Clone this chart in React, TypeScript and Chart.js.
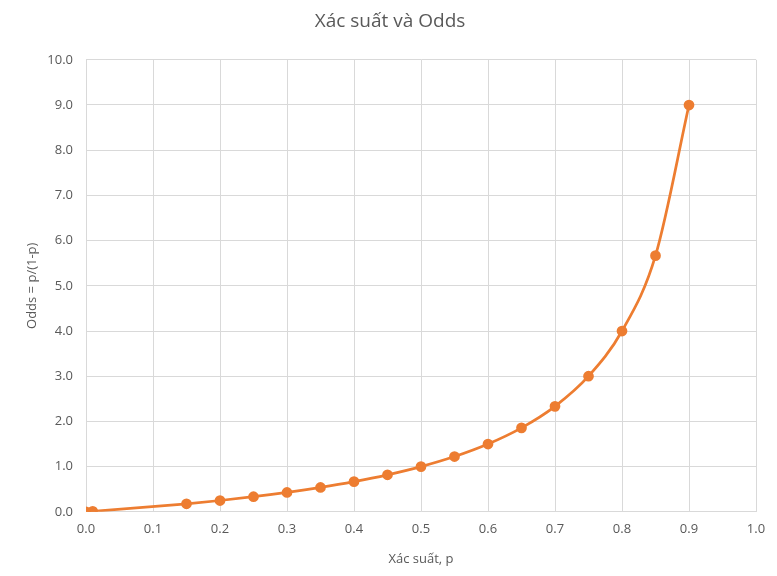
import React, { useEffect, useRef } from "react";
import { Chart, registerables } from "chart.js";

Chart.register(...registerables);

const probabilities = [0, 0.01, 0.15, 0.2, 0.25, 0.3, 0.35, 0.4, 0.45, 0.5, 0.55, 0.6, 0.65, 0.7, 0.75, 0.8, 0.85, 0.9];
const odds = [0, 0.0101, 0.1765, 0.25, 0.3333, 0.4286, 0.5385, 0.6667, 0.8182, 1.0, 1.2222, 1.5, 1.8571, 2.3333, 3.0, 4.0, 5.6667, 9.0];

const chartTitle = "Xác suất và Odds";
const xTitle = "Xác suất, p";
const yTitle = "Odds = p/(1-p)";

export default function App() {
  const ref = useRef<HTMLCanvasElement | null>(null);
  useEffect(() => {
    document.body.style.margin = "0";
    const ctx = ref.current!;
    const FONT = "'Open Sans', 'Noto Sans', sans-serif";
    const textColor = "#595959";
    const chart = new Chart(ctx, {
      type: "scatter",
      data: {
        datasets: [
          {
            data: probabilities.map((p, i) => ({ x: p, y: odds[i] })),
            showLine: true,
            borderColor: "#ED7D31",
            backgroundColor: "#ED7D31",
            borderWidth: 2.75,
            pointRadius: 4,
            pointHoverRadius: 4,
            cubicInterpolationMode: "monotone",
          },
        ],
      },
      options: {
        animation: false,
        responsive: false,
        devicePixelRatio: 1,
        layout: { padding: { left: 24, right: 21, top: 0, bottom: 9 } },
        plugins: {
          legend: { display: false },
          tooltip: { enabled: false },
          title: {
            display: true,
            text: chartTitle,
            color: textColor,
            font: { family: FONT, size: 19, weight: "normal" },
            padding: { top: 10, bottom: 27 },
          },
        },
        scales: {
          x: {
            type: "linear",
            min: 0,
            max: 1,
            ticks: {
              stepSize: 0.1,
              color: textColor,
              font: { family: FONT, size: 13 },
              padding: 10,
              callback: (v: any) => Number(v).toFixed(1),
            },
            grid: { color: "#d9d9d9", drawTicks: false },
            border: { color: "#d9d9d9" },
            title: {
              display: true,
              text: xTitle,
              color: textColor,
              font: { family: FONT, size: 13 },
              padding: { top: 4, bottom: 0 },
            },
          },
          y: {
            type: "linear",
            min: 0,
            max: 10,
            afterFit: (s: any) => {
              s.width = 62;
            },
            ticks: {
              stepSize: 1,
              color: textColor,
              font: { family: FONT, size: 13 },
              padding: 13,
              callback: (v: any) => Number(v).toFixed(1),
            },
            grid: { color: "#d9d9d9", drawTicks: false },
            border: { color: "#d9d9d9" },
            title: {
              display: true,
              text: yTitle,
              color: textColor,
              font: { family: FONT, size: 13 },
              padding: { top: 0, bottom: 4 },
            },
          },
        },
      },
    } as any);
    return () => chart.destroy();
  }, []);
  return (
    <div style={{ width: 777, height: 576, position: "relative", background: "#fff" }}>
      <canvas ref={ref} width={777} height={576} style={{ display: "block" }} />
    </div>
  );
}
